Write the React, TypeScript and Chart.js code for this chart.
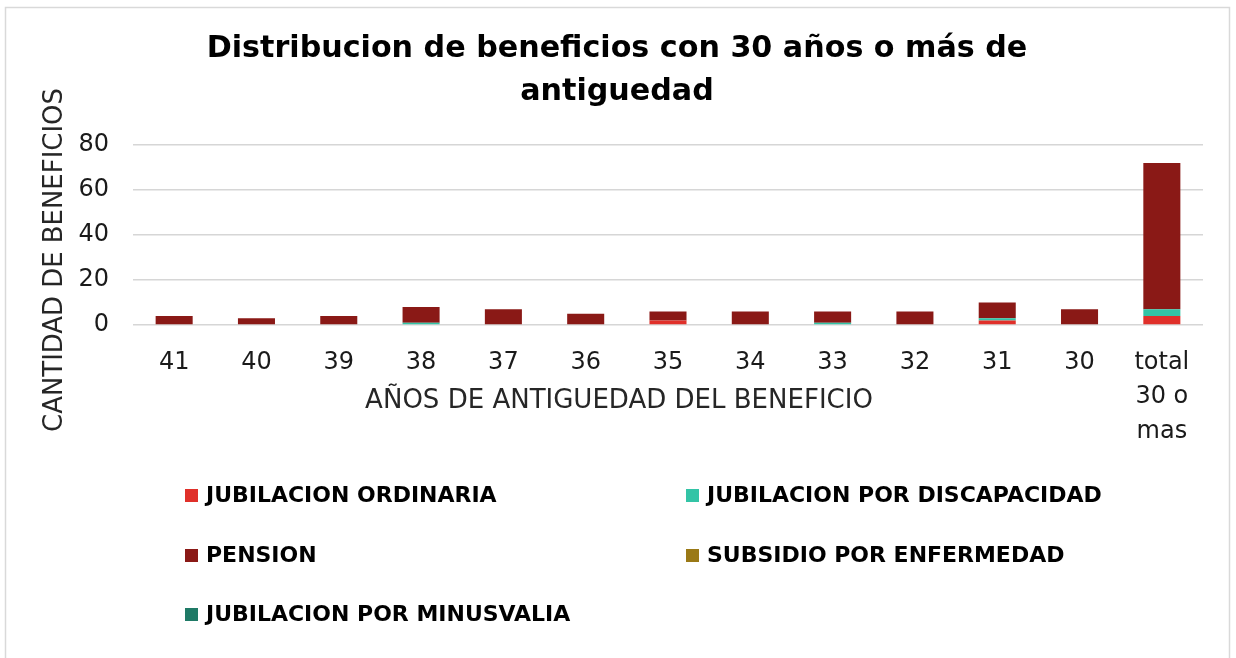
import React, { useEffect, useRef } from 'react';
import { Chart, registerables } from 'chart.js';

Chart.register(...registerables);

const titleLines = ['Distribucion de beneficios con 30 años o más de', 'antiguedad'];
const xTitle = 'AÑOS DE ANTIGUEDAD DEL BENEFICIO';
const yTitle = 'CANTIDAD DE BENEFICIOS';

const categories: (string | string[])[] = ['41', '40', '39', '38', '37', '36', '35', '34', '33', '32', '31', '30', ['total', '30 o', 'mas']];

const seriesNames = [
  'JUBILACION ORDINARIA',
  'JUBILACION POR DISCAPACIDAD',
  'PENSION',
  'SUBSIDIO POR ENFERMEDAD',
  'JUBILACION POR MINUSVALIA',
];
const seriesColors = ['#E0302A', '#33C4A6', '#8A1916', '#9A7916', '#1F7A66'];

const jubilacionOrdinaria = [0, 0, 0, 0, 0, 0, 2, 0, 0, 0, 2, 0, 4];
const jubilacionDiscapacidad = [0, 0, 0, 1, 0, 0, 0, 0, 1, 0, 1, 0, 3];
const pension = [4, 3, 4, 7, 7, 5, 4, 6, 5, 6, 7, 7, 65];
const subsidioEnfermedad = [0, 0, 0, 0, 0, 0, 0, 0, 0, 0, 0, 0, 0];
const jubilacionMinusvalia = [0, 0, 0, 0, 0, 0, 0, 0, 0, 0, 0, 0, 0];

const yTicks = [0, 20, 40, 60, 80];

const FAMILY = '"DejaVu Sans", sans-serif';

function fitSize(ctx: CanvasRenderingContext2D, text: string, weight: string, target: number) {
  ctx.font = `${weight} 100px ${FAMILY}`;
  const w = ctx.measureText(text).width;
  return (100 * target) / w;
}

const decorPlugin = {
  id: 'decor',
  afterDraw(chart: any) {
    const ctx: CanvasRenderingContext2D = chart.ctx;
    ctx.save();
    // outer border
    ctx.strokeStyle = '#d9d9d9';
    ctx.lineWidth = 1.5;
    ctx.strokeRect(5.5, 7.5, 1224, 700);

    ctx.fillStyle = '#000';
    ctx.textAlign = 'center';
    ctx.textBaseline = 'middle';
    // title
    const ts = fitSize(ctx, titleLines[0], 'bold', 821);
    ctx.font = `bold ${ts}px ${FAMILY}`;
    ctx.fillText(titleLines[0], 617, 49);
    ctx.fillText(titleLines[1], 617, 92);

    // x title
    ctx.fillStyle = '#262626';
    const xs = fitSize(ctx, xTitle, 'normal', 508);
    ctx.font = `normal ${xs}px ${FAMILY}`;
    ctx.fillText(xTitle, 619, 401);

    // y title
    const ys = fitSize(ctx, yTitle, 'normal', 344);
    ctx.save();
    ctx.translate(55, 260);
    ctx.rotate(-Math.PI / 2);
    ctx.font = `normal ${ys}px ${FAMILY}`;
    ctx.fillText(yTitle, 0, 0);
    ctx.restore();

    // legend
    const ls = fitSize(ctx, seriesNames[1], 'bold', 395);
    ctx.font = `bold ${ls}px ${FAMILY}`;
    ctx.textAlign = 'left';
    const pos = [
      [185, 496],
      [686, 496],
      [185, 556],
      [686, 556],
      [185, 615],
    ];
    seriesNames.forEach((name, i) => {
      const [x, y] = pos[i];
      ctx.fillStyle = seriesColors[i];
      ctx.fillRect(x, y - 7, 13, 13);
      ctx.fillStyle = '#000';
      ctx.fillText(name, x + 21, y);
    });
    ctx.restore();
  },
};

export default function App() {
  const ref = useRef<HTMLCanvasElement | null>(null);
  useEffect(() => {
    if (!ref.current) return;
    const series = [jubilacionOrdinaria, jubilacionDiscapacidad, pension, subsidioEnfermedad, jubilacionMinusvalia];
    const chart = new Chart(ref.current, {
      type: 'bar',
      data: {
        labels: categories as any,
        datasets: series.map((d, i) => ({
          label: seriesNames[i],
          data: d,
          backgroundColor: seriesColors[i],
          borderWidth: 0,
          barPercentage: 0.9,
          categoryPercentage: 0.5,
        })),
      },
      options: {
        responsive: false,
        animation: false,
        devicePixelRatio: 1,
        layout: { padding: { top: 145, right: 33, left: 0, bottom: 213 } },
        plugins: {
          legend: { display: false },
          title: { display: false },
          tooltip: { enabled: false },
        },
        scales: {
          x: {
            stacked: true,
            grid: { display: false, drawTicks: false },
            border: { display: false },
            ticks: {
              color: '#1a1a1a',
              font: { family: FAMILY, size: 24, lineHeight: 1.45 },
              padding: 20,
              maxRotation: 0,
              autoSkip: false,
            },
            afterFit: (scale: any) => {
              scale.height = 120;
            },
          },
          y: {
            stacked: true,
            min: 0,
            max: 80,
            afterBuildTicks: (scale: any) => {
              scale.ticks = yTicks.map((v) => ({ value: v }));
            },
            grid: { color: '#d6d6d6', lineWidth: 1.5, drawTicks: false },
            border: { display: false },
            ticks: {
              color: '#1a1a1a',
              font: { family: FAMILY, size: 24 },
              padding: 24,
            },
            afterFit: (scale: any) => {
              scale.width = 133;
            },
          },
        },
      },
      plugins: [decorPlugin],
    });
    return () => chart.destroy();
  }, []);
  return (
    <div style={{ position: 'fixed', left: 0, top: 0, width: 1236, height: 658, background: '#fff' }}>
      <canvas ref={ref} width={1236} height={658} style={{ width: 1236, height: 658 }} />
    </div>
  );
}
